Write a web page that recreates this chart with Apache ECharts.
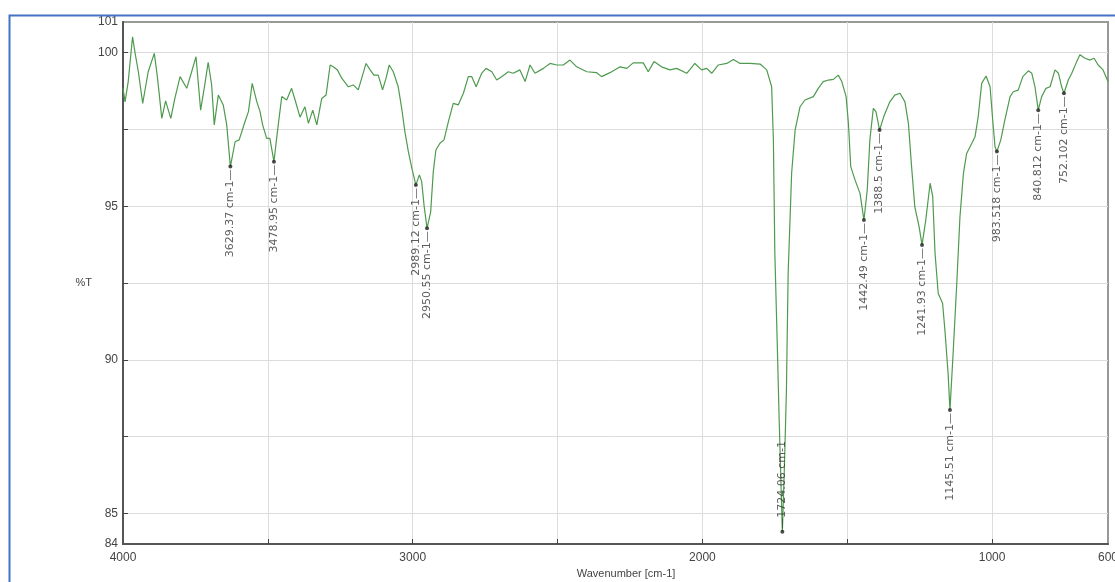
<!DOCTYPE html>
<html><head><meta charset="utf-8">
<script src="https://cdn.jsdelivr.net/npm/echarts@6/dist/echarts.min.js"></script>
<style>html,body{margin:0;padding:0;background:#fff}#c{width:1115px;height:582px}</style>
</head><body><div id="c"></div>
<script>
const wavenumbers = [4000,3993,3982,3967,3959,3947,3932,3913,3892,3882,
3866,3853,3835,3821,3803,3780,3763,3748,3732,3717,
3706,3694,3685,3671,3654,3642,3629.37,3613,3599,3579,
3567,3554,3538,3527,3518,3504,3493,3478.95,3467,3452,
3435,3418,3406,3389,3372,3360,3345,3331,3314,3299,
3285,3274,3260,3245,3222,3205,3188,3176,3161,3147,
3134,3119,3104,3092,3081,3067,3050,3038,3027,3015,
3003,2989.12,2977,2969,2961,2950.55,2938,2929,2920,2906,
2892,2877,2860,2843,2825,2808,2796,2781,2762,2747,
2727,2710,2693,2670,2653,2630,2612,2595,2578,2549,
2526,2503,2480,2457,2434,2399,2365,2348,2319,2284,
2261,2239,2204,2187,2167,2141,2112,2089,2054,2026,
2003,1985,1968,1945,1916,1893,1870,1836,1801,1778,
1761,1755,1750,1742,1735,1724.06,1717,1710,1704,1692,
1680,1663,1646,1617,1600,1583,1565,1548,1531,1519,
1504,1496,1488,1473,1456,1442.49,1431,1422,1410,1401,
1388.5,1374,1353,1336,1318,1301,1289,1278,1267,1252,
1241.93,1229,1214,1205,1197,1186,1171,1163,1152,1145.51,
1134,1122,1111,1099,1088,1070,1059,1048,1036,1021,
1007,998,990,983.518,970,956,938,927,910,894,
875,863,852,840.812,829,814,800,783,771,760,
752.102,737,725,708,697,679,662,648,634,617,
600];
const transmittance = [98.84,98.4,99.06,100.52,100.03,99.38,98.35,99.38,99.98,99.27,
97.86,98.43,97.86,98.51,99.22,98.84,99.38,99.87,98.13,99.0,
99.69,98.95,97.65,98.62,98.3,97.65,96.29,97.1,97.16,97.75,
98.08,99.0,98.4,98.08,97.65,97.21,97.21,96.45,97.43,98.57,
98.46,98.84,98.46,97.9,98.24,97.7,98.13,97.65,98.51,98.62,
99.6,99.54,99.44,99.17,98.89,98.95,98.79,99.17,99.65,99.44,
99.27,99.27,98.79,99.17,99.6,99.38,98.89,98.19,97.43,96.78,
96.24,95.69,96.02,95.8,95.04,94.28,94.82,96.12,96.83,97.05,
97.16,97.75,98.35,98.3,98.68,99.22,99.22,98.89,99.33,99.49,
99.38,99.11,99.22,99.38,99.33,99.44,99.06,99.6,99.33,99.49,
99.65,99.6,99.6,99.76,99.54,99.38,99.35,99.22,99.35,99.54,
99.49,99.67,99.67,99.38,99.71,99.54,99.44,99.49,99.33,99.65,
99.44,99.49,99.33,99.6,99.65,99.78,99.65,99.65,99.63,99.44,
98.89,97.16,93.48,90.64,88.04,84.4,86.5,89.0,92.83,96.08,
97.48,98.24,98.46,98.57,98.84,99.06,99.11,99.13,99.27,99.06,
98.57,97.7,96.29,95.85,95.42,94.55,95.53,97.16,98.19,98.08,
97.48,97.92,98.4,98.62,98.68,98.4,97.7,96.29,94.99,94.33,
93.74,94.55,95.75,95.31,93.47,92.16,91.84,90.97,89.56,88.36,
90.32,92.49,94.66,96.07,96.72,97.05,97.26,97.92,99.0,99.24,
98.89,97.81,96.94,96.78,97.16,97.81,98.57,98.73,98.78,99.22,
99.41,99.33,98.89,98.13,98.57,98.84,98.89,99.44,99.33,98.89,
98.68,99.11,99.33,99.71,99.93,99.82,99.76,99.82,99.6,99.44,
99.06];
const peakWavenumbers = [3629.37,3478.95,2989.12,2950.55,1724.06,1442.49,1388.5,1241.93,1145.51,983.518,840.812,752.102];
const peakLabels = ['3629.37 cm-1','3478.95 cm-1','2989.12 cm-1','2950.55 cm-1','1724.06 cm-1','1442.49 cm-1','1388.5 cm-1','1241.93 cm-1','1145.51 cm-1','983.518 cm-1','840.812 cm-1','752.102 cm-1'];
const xTickLabels = [4000,3000,2000,1000,600];
const xGridValues = [3500,3000,2500,2000,1500,1000];
const yTickLabels = [84,85,90,95,100,101];
const yGridValues = [85,87.5,90,92.5,95,97.5,100];

const spectrum = wavenumbers.map((w, i) => [w, transmittance[i]]);
const peakData = peakWavenumbers.map((w, i) => {
  const t = transmittance[wavenumbers.indexOf(w)];
  const above = t < 86;
  return {
    value: [w, t],
    label: above
      ? {position: 'top', align: 'left', verticalAlign: 'middle', formatter: '\u2014' + peakLabels[i]}
      : {position: 'bottom', align: 'right', verticalAlign: 'middle', formatter: peakLabels[i] + '\u2014'}
  };
});

const chart = echarts.init(document.getElementById('c'), null, {renderer: 'canvas'});
const axisFont = {fontFamily: 'Liberation Sans, Arial, sans-serif', fontSize: 12, color: '#444'};
const plain = v => String(v);
chart.setOption({
  animation: false,
  backgroundColor: '#fff',
  grid: {left: 123, right: 7, top: 22, bottom: 38, show: true, borderColor: '#999', borderWidth: 2, containLabel: false, outerBoundsMode: 'none'},
  graphic: [{type: 'rect', left: 7, top: 13, shape: {width: 1120, height: 600}, style: {fill: 'none', stroke: '#4472c4', lineWidth: 2}, silent: true, z: 100}],
  xAxis: {
    type: 'value', inverse: true, min: 600, max: 4000,
    name: 'Wavenumber [cm-1]', nameLocation: 'middle', nameGap: 21,
    nameTextStyle: Object.assign({}, axisFont, {fontSize: 11, padding: [0, 0, 0, 21]}),
    axisLine: {show: true, onZero: false, lineStyle: {color: '#555', width: 2}},
    axisTick: {show: true, inside: true, length: 5, customValues: xGridValues, lineStyle: {color: '#444'}},
    axisLabel: Object.assign({customValues: xTickLabels, margin: 8, showMinLabel: true, showMaxLabel: true, formatter: plain}, axisFont),
    splitLine: {show: true, lineStyle: {color: '#dcdcdc', width: 1}}
  },
  yAxis: {
    type: 'value', min: 84, max: 101,
    name: '%T', nameLocation: 'middle', nameRotate: 0, nameGap: 31,
    nameTextStyle: Object.assign({}, axisFont, {fontSize: 11, padding: [16, 0, 0, 0]}),
    axisLine: {show: true, lineStyle: {color: '#555', width: 2}},
    axisTick: {show: true, inside: true, length: 5, customValues: yGridValues, lineStyle: {color: '#444'}},
    axisLabel: Object.assign({customValues: yTickLabels, margin: 5, showMinLabel: true, showMaxLabel: true, formatter: plain}, axisFont),
    splitLine: {show: true, lineStyle: {color: '#dcdcdc', width: 1}}
  },
  series: [
    {type: 'line', data: spectrum, showSymbol: false, symbol: 'none', lineStyle: {color: '#4e9a4e', width: 1.2}, z: 2, silent: true},
    {type: 'scatter', data: peakData, symbol: 'circle', symbolSize: 4, itemStyle: {color: '#222'}, z: 3,
     label: {show: true, rotate: 90, distance: 1, fontFamily: 'DejaVu Sans, sans-serif', fontSize: 11, color: '#333'}}
  ]
});
</script></body></html>
